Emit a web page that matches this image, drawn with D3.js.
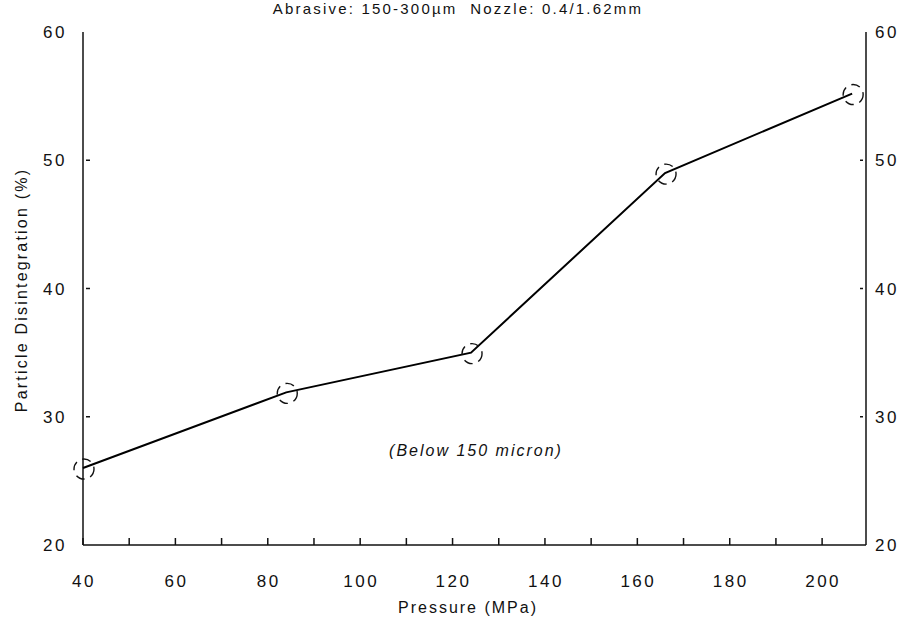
<!DOCTYPE html>
<html>
<head>
<meta charset="utf-8">
<script src="https://cdn.jsdelivr.net/npm/d3@7"></script>
<style>
	body { margin: 0; background: #fff; }
	svg { display: block; }
	text { font-family: 'Liberation Sans', Arial, sans-serif; fill: #111; white-space: pre; }
</style>
</head>
<body>
<svg id="chart" width="906" height="629"></svg>
<script>
'use strict';

// pressure (MPa) vs particle disintegration (%)
const pressure = [40, 84, 124, 166, 206.5];
const disintegration = [26, 31.9, 35, 49, 55.2];

const xTicks = [40, 60, 80, 100, 120, 140, 160, 180, 200];
const xMinorTicks = [50, 70, 90, 110, 130, 150, 170, 190];
const yTicks = [20, 30, 40, 50, 60];

const titleText = 'Abrasive: 150-300µm  Nozzle: 0.4/1.62mm';
const xLabel = 'Pressure (MPa)';
const yLabel = 'Particle Disintegration (%)';
const noteText = '(Below 150 micron)';

const svg = d3.select('#chart');

const x = d3.scaleLinear().domain([40, 209.5]).range([83, 866]);
const y = d3.scaleLinear().domain([20, 60]).range([545, 32]);

// frame: left, bottom, right
const frame = svg.append('g')
	.attr('stroke', '#111')
	.attr('stroke-width', 1.5)
	.attr('fill', 'none');

frame.append('line')
	.attr('x1', x(40)).attr('x2', x(40))
	.attr('y1', y(60)).attr('y2', y(20));
frame.append('line')
	.attr('x1', x(209.5)).attr('x2', x(209.5))
	.attr('y1', y(60)).attr('y2', y(20));
frame.append('line')
	.attr('x1', x(40)).attr('x2', x(209.5))
	.attr('y1', y(20)).attr('y2', y(20));

// ticks along bottom, pointing up
frame.selectAll('.xt')
	.data(xTicks.concat(xMinorTicks))
	.enter().append('line')
	.attr('x1', d => x(d)).attr('x2', d => x(d))
	.attr('y1', y(20)).attr('y2', y(20) - 7);

// short inner ticks on both vertical axes
frame.selectAll('.yl')
	.data(yTicks.slice(1, 4))
	.enter().append('line')
	.attr('x1', x(40) + 3).attr('x2', x(40) + 7)
	.attr('y1', d => y(d)).attr('y2', d => y(d));
frame.selectAll('.yr')
	.data(yTicks.slice(1, 4))
	.enter().append('line')
	.attr('x1', x(209.5) - 6).attr('x2', x(209.5) - 3)
	.attr('y1', d => y(d)).attr('y2', d => y(d));

// tick labels
svg.append('g').selectAll('text')
	.data(xTicks)
	.enter().append('text')
	.attr('x', d => x(d) + 1)
	.attr('y', 587)
	.attr('text-anchor', 'middle')
	.style('font-size', '17px')
	.style('letter-spacing', '2.5px')
	.text(d => d);

svg.append('g').selectAll('text')
	.data(yTicks)
	.enter().append('text')
	.attr('x', 67)
	.attr('y', d => y(d) + 6)
	.attr('text-anchor', 'end')
	.style('font-size', '17px')
	.style('letter-spacing', '2.5px')
	.text(d => d);

svg.append('g').selectAll('text')
	.data(yTicks)
	.enter().append('text')
	.attr('x', 875)
	.attr('y', d => y(d) + 6)
	.attr('text-anchor', 'start')
	.style('font-size', '17px')
	.style('letter-spacing', '2.5px')
	.text(d => d);

// data line
const line = d3.line()
	.x((d, i) => x(pressure[i]))
	.y(d => y(d));

svg.append('path')
	.datum(disintegration)
	.attr('d', line)
	.attr('fill', 'none')
	.attr('stroke', '#000')
	.attr('stroke-width', 2);

// dashed circle markers
svg.append('g').selectAll('circle')
	.data(disintegration)
	.enter().append('circle')
	.attr('cx', (d, i) => x(pressure[i]) + 1)
	.attr('cy', d => y(d) + 1)
	.attr('r', 10)
	.attr('fill', 'none')
	.attr('stroke', '#111')
	.attr('stroke-width', 1.4)
	.attr('stroke-dasharray', '9 6');

// labels
svg.append('text')
	.attr('x', 458)
	.attr('y', 14)
	.attr('text-anchor', 'middle')
	.style('font-size', '15px')
	.style('letter-spacing', '2.2px')
	.text(titleText);

svg.append('text')
	.attr('x', 468)
	.attr('y', 613)
	.attr('text-anchor', 'middle')
	.style('font-size', '16px')
	.style('letter-spacing', '2px')
	.text(xLabel);

svg.append('text')
	.attr('transform', 'translate(27,290) rotate(-90)')
	.attr('text-anchor', 'middle')
	.style('font-size', '16px')
	.style('letter-spacing', '2.2px')
	.text(yLabel);

svg.append('text')
	.attr('x', 476)
	.attr('y', 456)
	.attr('text-anchor', 'middle')
	.style('font-size', '16px')
	.style('font-style', 'italic')
	.style('letter-spacing', '2px')
	.text(noteText);
</script>
</body>
</html>
